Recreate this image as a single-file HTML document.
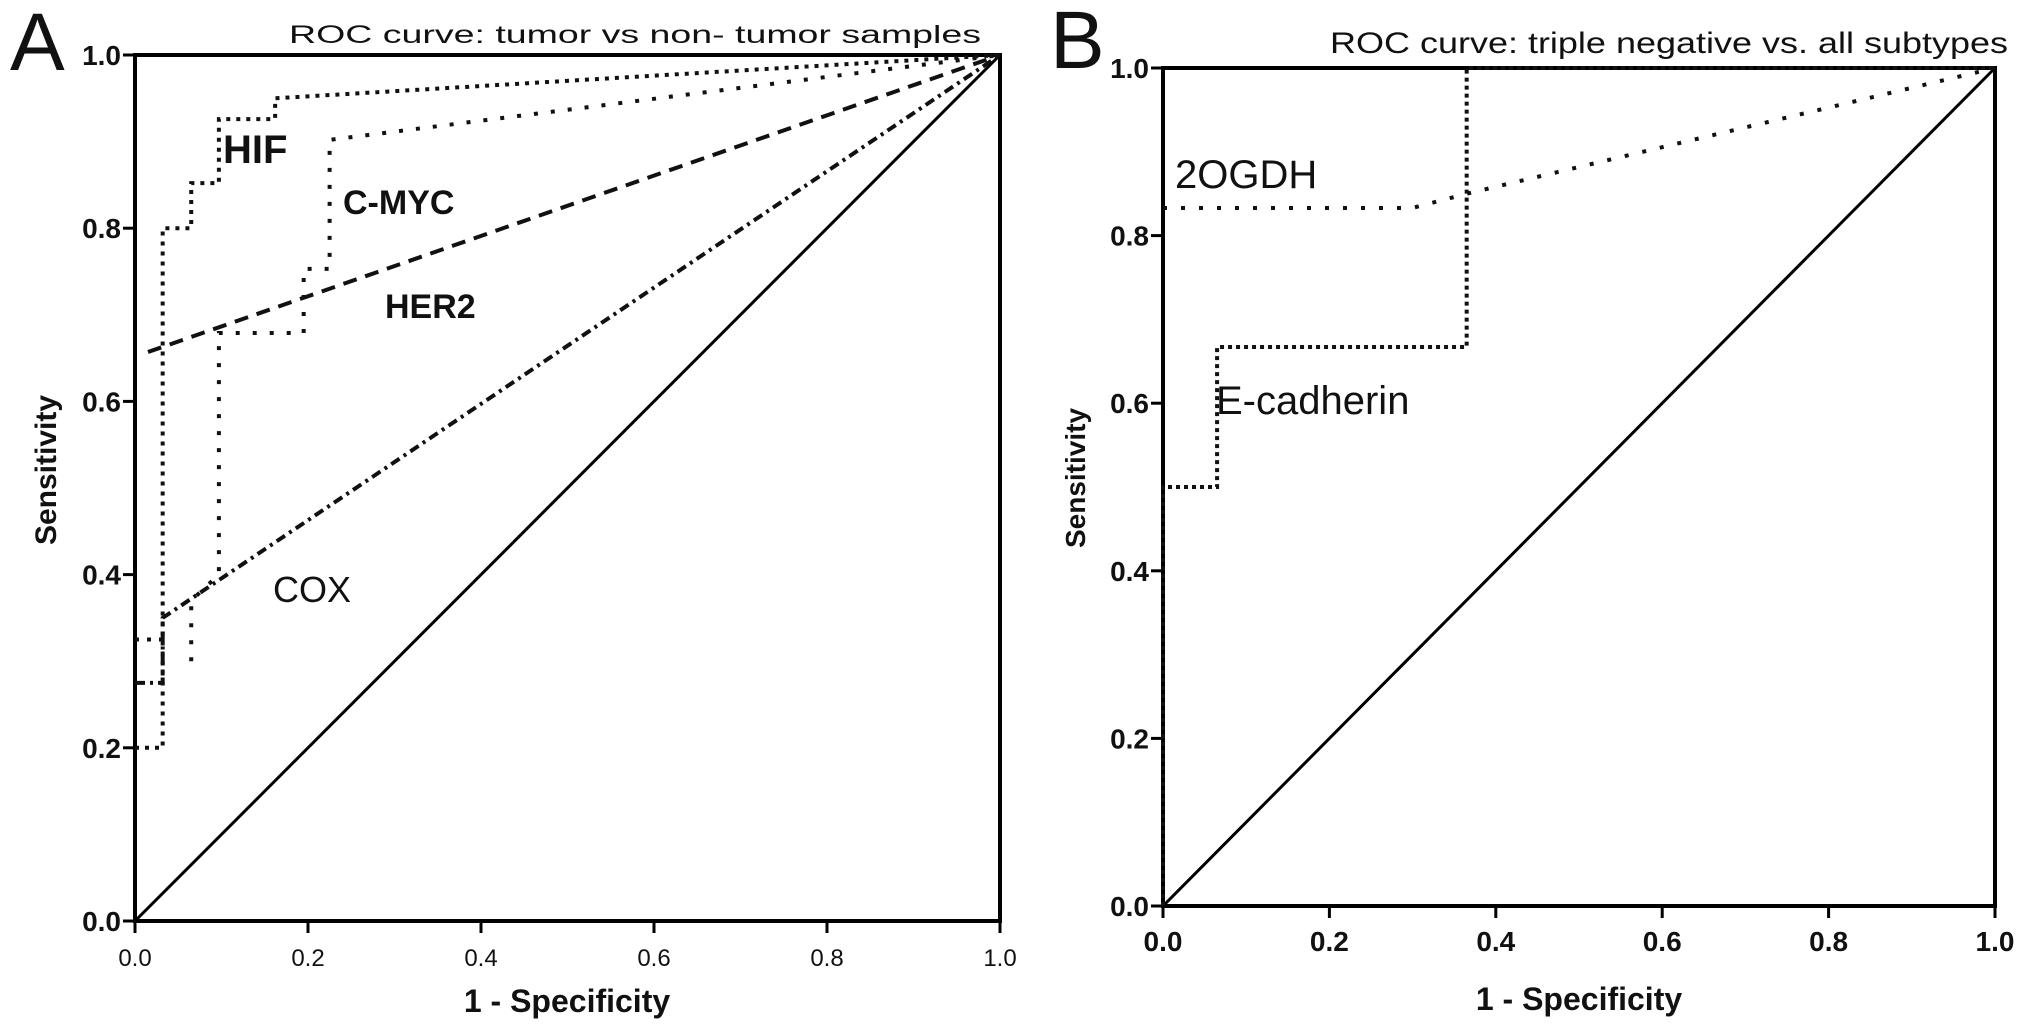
<!DOCTYPE html>
<html><head><meta charset="utf-8"><style>
html,body{margin:0;padding:0;background:#fff}
svg{display:block}
text{font-family:"Liberation Sans",Arial,sans-serif;fill:#111}
.tick{font-family:"Liberation Sans Narrow","Liberation Sans",sans-serif;font-weight:bold;font-size:28px}
</style></head><body>
<svg id="chart" width="2031" height="1032" viewBox="0 0 2031 1032"></svg>
<script>
// ---- Panel A data ----
const ticksA = [0.0, 0.2, 0.4, 0.6, 0.8, 1.0];
const tickLabels = ["0.0","0.2","0.4","0.6","0.8","1.0"];
const hifX = [0.0, 0.032, 0.032, 0.065, 0.065, 0.097, 0.097, 0.162, 0.162, 1.0];
const hifY = [0.2, 0.2, 0.8, 0.8, 0.852, 0.852, 0.926, 0.926, 0.95, 1.0];
const cmycX = [0.065, 0.065, 0.097, 0.097, 0.195, 0.195, 0.225, 0.225, 1.0];
const cmycY = [0.3, 0.37, 0.4, 0.679, 0.679, 0.753, 0.753, 0.902, 1.0];
const her2X = [0.015, 1.0];
const her2Y = [0.657, 1.0];
const coxX = [0.0, 0.032, 0.032, 1.0];
const coxY = [0.275, 0.275, 0.35, 1.0];
const cmycLowX = [0.0, 0.032];
const cmycLowY = [0.325, 0.325];
// ---- Panel B data ----
const ogdhX = [0.0, 0.3, 0.365, 1.0];
const ogdhY = [0.833, 0.833, 0.85, 1.0];
const ecadX = [0.0, 0.0, 0.065, 0.065, 0.365, 0.365, 1.0];
const ecadY = [0.0, 0.5, 0.5, 0.667, 0.667, 1.0, 1.0];

const NS = "http://www.w3.org/2000/svg";
const svg = document.getElementById('chart');
function mk(tag, attrs, parent){const e=document.createElementNS(NS,tag);for(const k in attrs)e.setAttribute(k,attrs[k]);(parent||svg).appendChild(e);return e;}

function panel(P){
  const g = mk('g',{});
  
  
  const sx = v => P.x0 + v*(P.x1-P.x0);
  const sy = v => P.y0 - v*(P.y0-P.y1);
  // frame
  const fr = mk('rect',{x:P.x0,y:P.y1,width:P.x1-P.x0,height:P.y0-P.y1,fill:'none',stroke:'#000','stroke-width':4},g);
  
  
  // diagonal
  const dg = mk('line',{x1:sx(0),y1:sy(0),x2:sx(1),y2:sy(1),stroke:'#000','stroke-width':3},g);
  
  
  // ticks
  ticksA.forEach((t,i)=>{
    const yl = mk('line',{x1:P.x0-12,y1:sy(t),x2:P.x0,y2:sy(t),stroke:'#000','stroke-width':3},g);
    
    
    const yt = mk('text',{x:P.x0-14,y:sy(t)+10,'text-anchor':'end',class:'tick'},g);
    yt.textContent = tickLabels[i];
    
    
    const xl = mk('line',{x1:sx(t),y1:P.y0,x2:sx(t),y2:P.y0+12,stroke:'#000','stroke-width':3},g);
    
    
    const xt = mk('text',{x:sx(t),y:P.y0+45,'text-anchor':'middle',class:'tick','font-size':P.xtf,'font-weight':P.xtw},g);
    xt.style.fontSize = P.xtf+'px'; xt.style.fontWeight = P.xtw;
    xt.textContent = tickLabels[i];
    
    
  });
  P.series.forEach(s=>{
    const pts = s.xs.map((v,i)=>sx(v)+','+sy(s.ys[i])).join(' ');
    const pl = mk('polyline',{points:pts,fill:'none',stroke:'#111','stroke-width':4,'stroke-dasharray':s.dash,'stroke-linecap':s.cap||'butt'},g);
    
    
  });
  P.labels.forEach(l=>{
    const t = mk('text',{x:l.x,y:l.y,'font-size':l.fs,'font-weight':l.fw||'bold'},g);
    t.textContent = l.t;
    
    
  });
}

panel({name:'panel-a',x0:135,x1:1000,y0:921,y1:55,xtf:24,xtw:'normal',
  series:[
    {name:'hif-curve',xs:hifX,ys:hifY,dash:'4 6'},
    {name:'cmyc-curve',xs:cmycX,ys:cmycY,dash:'4 13'},
    {name:'cmyc-low-segment',xs:cmycLowX,ys:cmycLowY,dash:'4 8'},
    {name:'her2-curve',xs:her2X,ys:her2Y,dash:'14 9'},
    {name:'cox-curve',xs:coxX,ys:coxY,dash:'10 5 3 5'}
  ],
  labels:[
    {t:'HIF',x:223,y:163,fs:40,name:'hif-label'},
    {t:'C-MYC',x:343,y:214,fs:34,name:'cmyc-label'},
    {t:'HER2',x:385,y:318,fs:34,name:'her2-label'},
    {t:'COX',x:273,y:602,fs:36,fw:'normal',name:'cox-label'}
  ]});

panel({name:'panel-b',x0:1163,x1:1995,y0:906,y1:68,xtf:28,xtw:'bold',
  series:[
    {name:'ogdh-curve',xs:ogdhX,ys:ogdhY,dash:'4 14'},
    {name:'ecadherin-curve',xs:ecadX,ys:ecadY,dash:'4 4'}
  ],
  labels:[
    {t:'2OGDH',x:1175,y:188,fs:40,fw:'normal',name:'ogdh-label'},
    {t:'E-cadherin',x:1216,y:414,fs:40,fw:'normal',name:'ecadherin-label'}
  ]});

function txt(s,attrs,name){const t=mk('text',attrs);t.textContent=s;
  
  
  return t;}
txt('A',{x:10,y:70,'font-size':82},'panel-a-letter');
txt('B',{x:1050,y:68,'font-size':82},'panel-b-letter');
txt('ROC curve: tumor vs non- tumor samples',{x:289,y:43,'font-size':25,textLength:692,lengthAdjust:'spacingAndGlyphs'},'panel-a-title');
txt('ROC curve: triple negative vs. all subtypes',{x:1330,y:53,'font-size':30,textLength:678,lengthAdjust:'spacingAndGlyphs'},'panel-b-title');
txt('1 - Specificity',{x:567,y:1012,'font-size':32,'font-weight':'bold','text-anchor':'middle'},'panel-a-x-axis-title');
txt('1 - Specificity',{x:1579,y:1010,'font-size':32,'font-weight':'bold','text-anchor':'middle'},'panel-b-x-axis-title');
txt('Sensitivity',{x:0,y:0,'font-size':30,'font-weight':'bold','text-anchor':'middle',transform:'translate(56,470) rotate(-90)'},'panel-a-y-axis-title');
txt('Sensitivity',{x:0,y:0,'font-size':28,'font-weight':'bold','text-anchor':'middle',transform:'translate(1085,478) rotate(-90)'},'panel-b-y-axis-title');
</script>
</body></html>
